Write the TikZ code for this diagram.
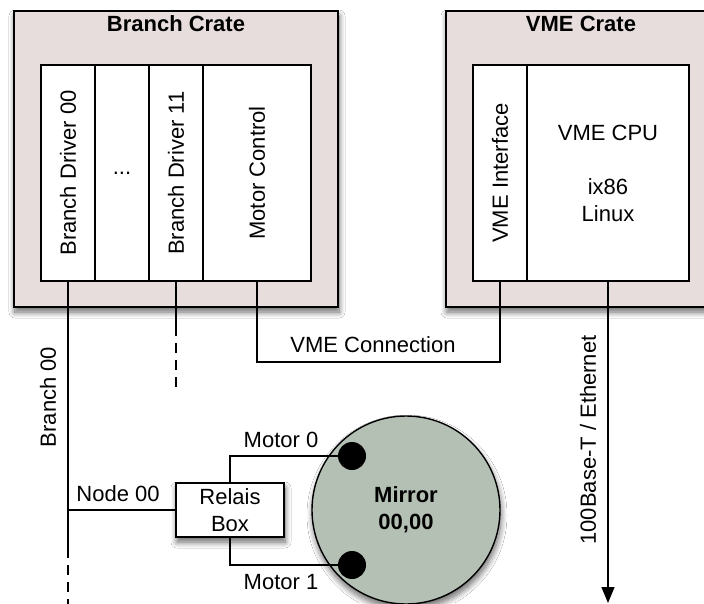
\documentclass[tikz,border=0pt]{standalone}
\usepackage{fontspec}
\setmainfont{Liberation Sans}
\usetikzlibrary{shadows.blur,arrows.meta}
\definecolor{cratefill}{HTML}{E8DDDD}
\definecolor{mirrorfill}{HTML}{B5C0B5}
\tikzset{
  boxline/.style={draw=black, line width=1.6pt},
  softshadow/.style={blur shadow={shadow xshift=1pt, shadow yshift=-5pt, shadow blur radius=6pt, shadow blur steps=10, shadow opacity=60}},
  cratebox/.style={boxline, fill=cratefill, minimum height=296pt, softshadow},
  cell/.style={boxline, fill=white, minimum height=216pt},
  wire/.style={line width=1.3pt},
  dashwire/.style={wire, dash pattern=on 10pt off 7pt, dash phase=10pt},
  titletext/.style={font=\fontsize{22}{27}\selectfont\bfseries},
}
\begin{document}
\begin{tikzpicture}[x=1pt,y=-1pt,
  font=\fontsize{22}{27}\selectfont,
  every node/.append style={inner sep=0pt, outer sep=0pt}]
\useasboundingbox (0,0) rectangle (704,603);
\clip (0,0) rectangle (704,603);
\fill[white] (0,0) rectangle (704,603);

% Branch crate
\node[cratebox, minimum width=324pt] (bc) at (176,159) {};
\node[titletext] (bct) at (176,24) {Branch Crate};
\node[cell, minimum width=54pt] (bd00) at (68,173) {\rotatebox{90}{Branch Driver 00}};
\node[cell, minimum width=54pt] (dots) at (122,173) {...};
\node[cell, minimum width=54pt] (bd11) at (176,173) {\rotatebox{90}{Branch Driver 11}};
\node[cell, minimum width=108pt] (mc) at (257,173) {\rotatebox{90}{Motor Control}};

% VME crate
\node[cratebox, minimum width=270pt] (vc) at (581,159) {};
\node[titletext] (vct) at (581,24) {VME Crate};
\node[cell, minimum width=54pt] (vi) at (500,173) {\rotatebox{90}{VME Interface}};
\node[cell, minimum width=162pt, align=center] (cpu) at (608,173) {VME CPU\\[27pt]ix86\\Linux};

% coordinates
\coordinate (b00a) at (68,558);
\coordinate (b00b) at (68,610);
\coordinate (b11a) at (176,336);
\coordinate (b11b) at (176,387);
\coordinate (ethend) at (608,603);

% Relais box and mirror
\node[boxline, fill=white, minimum width=108pt, minimum height=54pt, align=center, softshadow] (relais) at (230,510) {Relais\\Box};
\node[circle, boxline, line width=1.4pt, fill=mirrorfill, minimum size=188pt, align=center, softshadow, font=\fontsize{22}{27}\selectfont\bfseries] (mirror) at (406,510) {Mirror\\00,00};

% wires
\draw[wire] (bd00.south) -- (b00a);
\draw[dashwire] (b00a) -- (b00b);
\draw[wire] (bd11.south) -- (b11a);
\draw[dashwire] (b11a) -- (b11b);
\draw[wire] (mc.south) -- ++(0,81) -| (vi.south);
\draw[wire, -{Triangle[width=13pt,length=16pt]}] (cpu.south) -- (ethend);
\draw[wire] (bd00.south |- relais.west) -- (relais.west);

% motor dots
\node[circle, fill=black, minimum size=28pt] (m0) at (352,456) {};
\node[circle, fill=black, minimum size=28pt] (m1) at (352,565) {};
\draw[wire] (relais.north) |- (m0);
\draw[wire] (relais.south) |- (m1);

% labels
\node[rotate=90] (b00l) at (48,397) {Branch 00};
\node (n00l) at (118,494) {Node 00};
\node (vmel) at (373,345) {VME Connection};
\node (m0l) at (281,440) {Motor 0};
\node (m1l) at (281,582) {Motor 1};
\node[rotate=90] (ethl) at (588,440) {100Base-T / Ethernet};
\end{tikzpicture}
\end{document}
